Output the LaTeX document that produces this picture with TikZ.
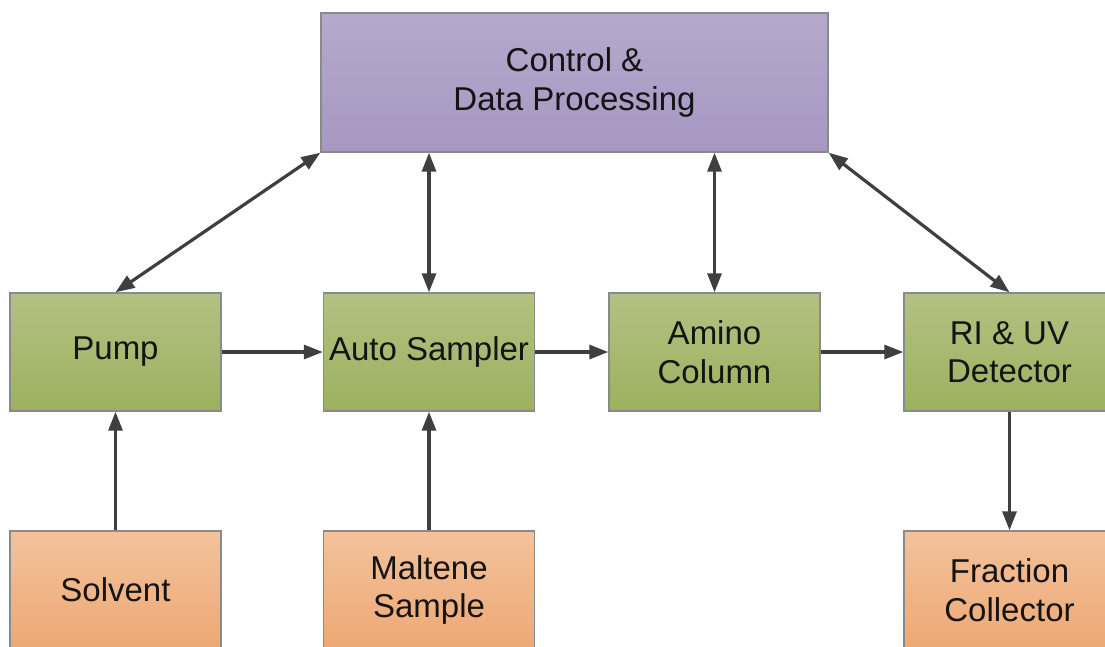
\documentclass[tikz,border=0pt]{standalone}
\usepackage{fontspec}
\setmainfont{Liberation Sans}
\usetikzlibrary{arrows.meta}
\definecolor{bordergray}{HTML}{8A8A8A}
\definecolor{arrowgray}{HTML}{3F3F3F}
\definecolor{purtop}{HTML}{B5A9CC}
\definecolor{purbot}{HTML}{A797C2}
\definecolor{grntop}{HTML}{B3C282}
\definecolor{grnbot}{HTML}{9DB05F}
\definecolor{orgtop}{HTML}{F3C29B}
\definecolor{orgbot}{HTML}{EDA874}
\tikzset{
  blk/.style={draw=bordergray, line width=1.4pt, align=center, inner sep=0pt,
    minimum width=211pt, minimum height=118pt, text=black!92,
    font=\fontsize{33}{38.5}\selectfont},
  greenbox/.style={blk, top color=grntop, bottom color=grnbot},
  orangebox/.style={blk, top color=orgtop, bottom color=orgbot},
  purplebox/.style={blk, top color=purtop, bottom color=purbot,
    minimum width=507pt, minimum height=139pt},
  conn/.style={draw=arrowgray, line width=3.2pt,
    -{Triangle[length=19pt,width=14pt]}},
  dconn/.style={draw=arrowgray, line width=3.2pt,
    {Triangle[length=19pt,width=14pt]}-{Triangle[length=19pt,width=14pt]}}
}
\begin{document}
\begin{tikzpicture}[x=1pt,y=1pt]
\useasboundingbox (0,0) rectangle (1105,-646);
\clip (0,0) rectangle (1105,-646);
\fill[white] (0,0) rectangle (1105,-646);
\node[purplebox] (ctrl) at (574.5,-82.5) {Control \&\\Data Processing};
\node[greenbox] (pump) at (115.5,-352) {Pump};
\node[greenbox] (auto) at (429,-352) {Auto Sampler};
\node[greenbox] (amino) at (714.5,-352) {Amino\\Column};
\node[greenbox] (ri) at (1009.5,-352) {RI \& UV\\Detector};
\node[orangebox] (solv) at (115.5,-590) {Solvent};
\node[orangebox] (malt) at (429,-590) {Maltene\\Sample};
\node[orangebox] (frac) at (1009.5,-590) {Fraction\\Collector};
% control links
\draw[dconn] (pump.north) -- (ctrl.south west);
\draw[dconn] (auto.north) -- (auto.north |- ctrl.south);
\draw[dconn] (amino.north) -- (amino.north |- ctrl.south);
\draw[dconn] (ri.north) -- (ctrl.south east);
% flow
\draw[conn] (pump.east) -- (auto.west);
\draw[conn] (auto.east) -- (amino.west);
\draw[conn] (amino.east) -- (ri.west);
\draw[conn] (solv.north) -- (pump.south);
\draw[conn] (malt.north) -- (auto.south);
\draw[conn] (ri.south) -- (frac.north);
\end{tikzpicture}
\end{document}
